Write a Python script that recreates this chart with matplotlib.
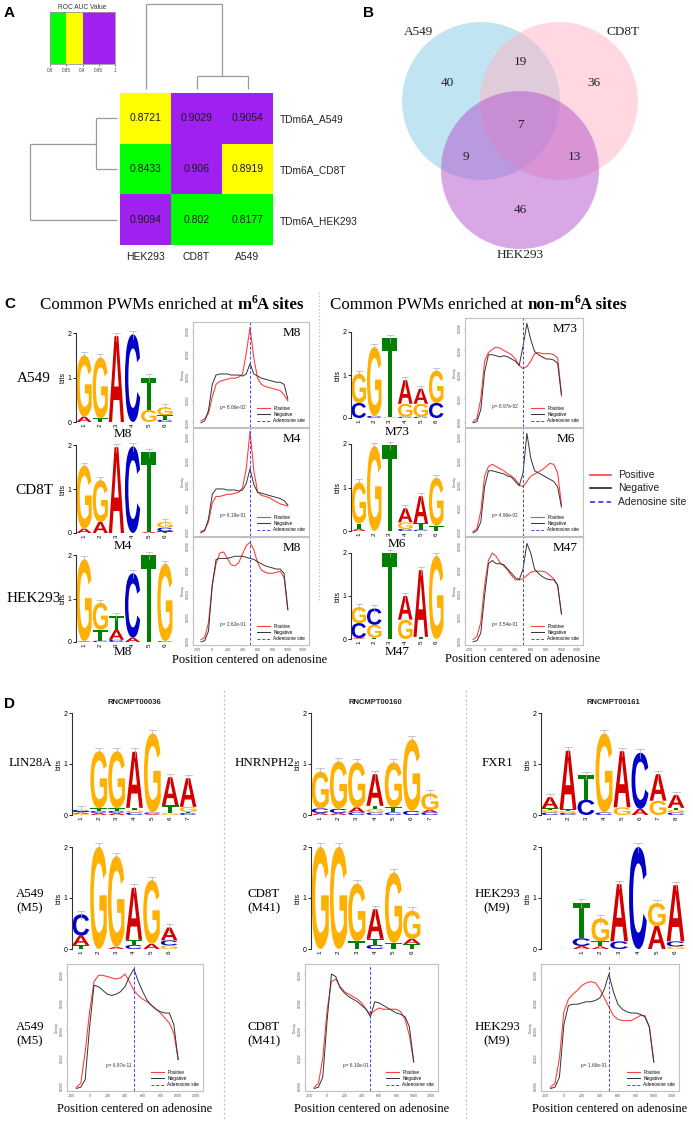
import matplotlib
matplotlib.use('Agg')
import matplotlib.pyplot as plt
from matplotlib.colors import ListedColormap, BoundaryNorm
from matplotlib.patches import Circle, PathPatch
from matplotlib.textpath import TextPath
from matplotlib.font_manager import FontProperties
from matplotlib.lines import Line2D
import matplotlib.transforms as mtrans

plt.rcParams['font.family'] = ['Liberation Sans', 'DejaVu Sans']
SERIF = ['Liberation Serif', 'DejaVu Serif']

# ---------------- Panel A data ----------------
HM_COLS = ['HEK293', 'CD8T', 'A549']
HM_ROWS = ['TDm6A_A549', 'TDm6A_CD8T', 'TDm6A_HEK293']
HM_VALUES = [[0.8721, 0.9029, 0.9054],
             [0.8433, 0.906, 0.8919],
             [0.9094, 0.802, 0.8177]]
AUC_BOUNDS = [0.8, 0.85, 0.9, 1.0]
AUC_COLORS = ['#00ff00', '#ffff00', '#a020f0']
AUC_TICKS = [0.8, 0.85, 0.9, 0.95, 1.0]
AUC_TICKLABELS = ['0.8', '0.85', '0.9', '0.95', '1']
COL_DENDRO_HEIGHTS = [0.153, 1.0]   # (CD8T,A549) then with HEK293
ROW_DENDRO_HEIGHTS = [0.24, 1.0]    # (A549,CD8T) then with HEK293

# ---------------- Panel B data ----------------
VENN_SETS = ['A549', 'CD8T', 'HEK293']
VENN_REGIONS = ['100', '010', '001', '110', '101', '011', '111']
VENN_COUNTS = [40, 36, 46, 19, 9, 13, 7]

# ---------------- Logo data (letter, bits) bottom -> top ----------------
LOGO_C_A549_M8 = [[('A', 0.12), ('G', 1.38)], [('T', 0.08), ('G', 1.37)], [('A', 1.93)],
                  [('C', 1.97)], [('G', 0.27), ('T', 0.73)], [('C', 0.05), ('T', 0.1), ('G', 0.18)]]
LOGO_C_CD8T_M4 = [[('A', 0.1), ('G', 1.43)], [('A', 0.25), ('G', 0.95)], [('A', 1.95)],
                  [('C', 1.97)], [('A', 0.03), ('T', 1.8)], [('T', 0.04), ('C', 0.08), ('G', 0.13)]]
LOGO_C_HEK293_M8 = [[('A', 0.02), ('G', 1.88)], [('C', 0.03), ('T', 0.25), ('G', 0.62)],
                    [('C', 0.05), ('A', 0.23), ('T', 0.32)], [('A', 0.1), ('C', 1.48)],
                    [('T', 2.0)], [('C', 0.02), ('G', 1.78)]]
LOGO_C_A549_M73 = [[('C', 0.35), ('G', 0.68)], [('C', 0.05), ('G', 1.6)], [('G', 0.02), ('T', 1.83)],
                   [('C', 0.03), ('G', 0.3), ('A', 0.55)], [('C', 0.03), ('G', 0.3), ('A', 0.35)],
                   [('C', 0.35), ('G', 0.75)]]
LOGO_C_CD8T_M6 = [[('A', 0.05), ('T', 0.12), ('G', 0.95)], [('G', 1.95)], [('T', 1.98)],
                  [('C', 0.05), ('G', 0.15), ('A', 0.32)], [('C', 0.03), ('T', 0.15), ('A', 0.62)],
                  [('T', 0.12), ('G', 1.1)]]
LOGO_C_HEK293_M47 = [[('A', 0.02), ('C', 0.35), ('G', 0.37)], [('T', 0.03), ('G', 0.3), ('C', 0.38)],
                     [('T', 2.0)], [('G', 0.45), ('A', 0.55)], [('T', 0.05), ('A', 1.55)], [('G', 1.93)]]

LOGO_D_LIN28A = [[('G', 0.02), ('A', 0.03), ('T', 0.02), ('C', 0.03)],
                 [('A', 0.04), ('C', 0.04), ('T', 0.05), ('G', 1.12)],
                 [('A', 0.04), ('C', 0.04), ('T', 0.05), ('G', 1.12)],
                 [('C', 0.05), ('G', 0.04), ('T', 0.05), ('A', 1.1)],
                 [('A', 0.02), ('C', 0.03), ('G', 1.55)],
                 [('G', 0.04), ('T', 0.15), ('A', 0.55)],
                 [('C', 0.04), ('T', 0.02), ('G', 0.1), ('A', 0.56)]]
LOGO_D_HNRNPH2 = [[('A', 0.04), ('C', 0.09), ('G', 0.72)], [('A', 0.04), ('C', 0.08), ('G', 0.93)],
                  [('C', 0.05), ('A', 0.1), ('G', 0.88)], [('C', 0.05), ('G', 0.07), ('T', 0.06), ('A', 0.62)],
                  [('C', 0.05), ('T', 0.1), ('G', 0.88)], [('C', 0.08), ('G', 1.4)],
                  [('C', 0.05), ('A', 0.05), ('G', 0.32)]]
LOGO_D_FXR1 = [[('C', 0.05), ('G', 0.05), ('T', 0.03), ('A', 0.22)],
               [('C', 0.04), ('G', 0.04), ('T', 0.03), ('A', 1.15)],
               [('C', 0.3), ('T', 0.48)], [('C', 0.05), ('G', 1.55)],
               [('G', 0.15), ('A', 1.1)], [('A', 0.12), ('C', 1.1)],
               [('G', 0.28), ('A', 0.52)], [('C', 0.05), ('G', 0.05), ('T', 0.04), ('A', 0.25)]]
LOGO_D_A549_M5 = [[('T', 0.08), ('A', 0.18), ('C', 0.42)], [('G', 2.0)], [('A', 0.04), ('G', 1.78)],
                  [('C', 0.08), ('T', 0.1), ('A', 1.02)], [('A', 0.1), ('G', 1.25)],
                  [('G', 0.07), ('C', 0.1), ('A', 0.25)]]
LOGO_D_CD8T_M41 = [[('G', 2.0)], [('G', 2.0)], [('T', 0.15), ('G', 1.13)],
                   [('C', 0.08), ('T', 0.12), ('A', 0.58)], [('T', 0.12), ('G', 1.38)],
                   [('T', 0.1), ('A', 0.1), ('G', 0.55)]]
LOGO_D_HEK293_M9 = [[('A', 0.06), ('C', 0.15), ('T', 0.7)], [('A', 0.05), ('T', 0.1), ('G', 0.45)],
                    [('C', 0.15), ('A', 1.12)], [('C', 2.0)], [('A', 0.45), ('G', 0.45)],
                    [('G', 0.05), ('C', 0.1), ('A', 1.1)]]

# ---------------- Density data (fraction of panel height) ----------------
DENS_X = [-150, -100, -50, 0, 50, 100, 150, 200, 250, 300, 350, 400,
          450, 500, 550, 600, 650, 700, 750, 800, 850, 900, 950, 1000]
C_A549_M8_POS = [0.05, 0.07, 0.12, 0.28, 0.40, 0.43, 0.44, 0.45, 0.46, 0.46, 0.47, 0.50,
                 0.70, 0.95, 0.65, 0.46, 0.40, 0.38, 0.37, 0.36, 0.35, 0.34, 0.30, 0.24]
C_A549_M8_NEG = [0.03, 0.05, 0.15, 0.40, 0.49, 0.50, 0.50, 0.50, 0.49, 0.49, 0.49, 0.48,
                 0.50, 0.60, 0.50, 0.48, 0.46, 0.45, 0.44, 0.43, 0.42, 0.42, 0.40, 0.26]
C_CD8T_M4_POS = [0.03, 0.05, 0.12, 0.30, 0.36, 0.36, 0.37, 0.38, 0.38, 0.39, 0.40, 0.44,
                 0.62, 0.97, 0.60, 0.40, 0.37, 0.36, 0.35, 0.33, 0.31, 0.29, 0.28, 0.27]
C_CD8T_M4_NEG = [0.02, 0.04, 0.15, 0.38, 0.43, 0.43, 0.43, 0.42, 0.42, 0.42, 0.41, 0.42,
                 0.48, 0.62, 0.47, 0.40, 0.39, 0.38, 0.37, 0.36, 0.35, 0.34, 0.32, 0.28]
C_HEK293_M8_POS = [0.04, 0.06, 0.20, 0.55, 0.75, 0.85, 0.86, 0.80, 0.74, 0.73, 0.76, 0.84,
                   0.92, 0.95, 0.88, 0.76, 0.69, 0.67, 0.66, 0.66, 0.67, 0.68, 0.62, 0.32]
C_HEK293_M8_NEG = [0.02, 0.03, 0.12, 0.55, 0.79, 0.80, 0.80, 0.80, 0.81, 0.82, 0.82, 0.82,
                   0.81, 0.80, 0.79, 0.77, 0.75, 0.73, 0.72, 0.71, 0.70, 0.70, 0.66, 0.32]
C_A549_M73_POS = [0.04, 0.07, 0.25, 0.60, 0.68, 0.71, 0.73, 0.72, 0.70, 0.68, 0.66, 0.62,
                  0.56, 0.53, 0.55, 0.60, 0.67, 0.68, 0.67, 0.67, 0.67, 0.66, 0.63, 0.30]
C_A549_M73_NEG = [0.03, 0.04, 0.15, 0.50, 0.66, 0.66, 0.65, 0.64, 0.65, 0.64, 0.62, 0.60,
                  0.56, 0.74, 0.95, 0.80, 0.69, 0.66, 0.64, 0.62, 0.62, 0.61, 0.58, 0.28]
C_CD8T_M6_POS = [0.03, 0.06, 0.22, 0.55, 0.64, 0.66, 0.64, 0.62, 0.60, 0.57, 0.55, 0.52,
                 0.47, 0.45, 0.50, 0.55, 0.57, 0.59, 0.61, 0.64, 0.67, 0.66, 0.58, 0.28]
C_CD8T_M6_NEG = [0.02, 0.04, 0.12, 0.45, 0.60, 0.60, 0.59, 0.58, 0.57, 0.55, 0.54, 0.50,
                 0.46, 0.58, 0.95, 0.72, 0.60, 0.58, 0.56, 0.54, 0.52, 0.50, 0.45, 0.26]
C_HEK293_M47_POS = [0.04, 0.07, 0.20, 0.55, 0.78, 0.85, 0.82, 0.76, 0.73, 0.69, 0.64, 0.60,
                    0.60, 0.61, 0.64, 0.67, 0.68, 0.68, 0.68, 0.67, 0.64, 0.61, 0.55, 0.28]
C_HEK293_M47_NEG = [0.02, 0.03, 0.10, 0.45, 0.75, 0.78, 0.75, 0.75, 0.74, 0.70, 0.66, 0.62,
                    0.60, 0.70, 0.94, 0.85, 0.70, 0.66, 0.63, 0.61, 0.60, 0.60, 0.55, 0.28]
D_A549_M5_POS = [0.02, 0.05, 0.30, 0.62, 0.86, 0.91, 0.91, 0.90, 0.89, 0.88, 0.89, 0.92,
                 0.86, 0.79, 0.75, 0.72, 0.70, 0.67, 0.64, 0.61, 0.57, 0.53, 0.45, 0.24]
D_A549_M5_NEG = [0.01, 0.02, 0.08, 0.50, 0.83, 0.82, 0.79, 0.76, 0.75, 0.76, 0.78, 0.82,
                 0.90, 0.96, 0.86, 0.78, 0.71, 0.67, 0.64, 0.62, 0.61, 0.61, 0.52, 0.24]
D_CD8T_M41_POS = [0.02, 0.05, 0.25, 0.63, 0.86, 0.88, 0.82, 0.78, 0.76, 0.74, 0.72, 0.69,
                  0.64, 0.60, 0.63, 0.65, 0.64, 0.64, 0.64, 0.64, 0.62, 0.56, 0.43, 0.22]
D_CD8T_M41_NEG = [0.01, 0.02, 0.10, 0.55, 0.92, 0.90, 0.81, 0.77, 0.74, 0.72, 0.70, 0.67,
                  0.64, 0.58, 0.70, 0.69, 0.67, 0.65, 0.63, 0.61, 0.60, 0.58, 0.50, 0.22]
D_HEK293_M9_POS = [0.02, 0.05, 0.25, 0.62, 0.72, 0.76, 0.79, 0.83, 0.85, 0.86, 0.85, 0.80,
                   0.73, 0.66, 0.59, 0.56, 0.55, 0.55, 0.55, 0.57, 0.59, 0.59, 0.50, 0.22]
D_HEK293_M9_NEG = [0.01, 0.02, 0.10, 0.52, 0.67, 0.68, 0.68, 0.69, 0.70, 0.70, 0.71, 0.73,
                   0.80, 0.92, 0.78, 0.68, 0.64, 0.62, 0.61, 0.61, 0.60, 0.58, 0.50, 0.22]
P_VALUES = {'C_A549': 'p= 8.06e-02', 'C_CD8T': 'p= 6.19e-01', 'C_HEK293': 'p= 2.62e-01',
            'C_M73': 'p= 8.97e-02', 'C_M6': 'p= 4.96e-02', 'C_M47': 'p= 3.54e-01',
            'D_A549': 'p= 6.97e-11', 'D_CD8T': 'p= 6.10e-01', 'D_HEK293': 'p= 1.66e-01'}
DENS_XTICKS = [-200, 0, 200, 400, 600, 800, 1000, 1200]

# ---------------- Figure helpers ----------------
W, H = 693, 1123
fig = plt.figure(figsize=(W / 100, H / 100), dpi=100)


def add_ax(x0, y0, x1, y1):
    return fig.add_axes([x0 / W, 1 - y1 / H, (x1 - x0) / W, (y1 - y0) / H])


def ftext(x, y, s, **kw):
    return fig.text(x / W, 1 - y / H, s, **kw)


def vline(x, y0, y1, **kw):
    fig.add_artist(Line2D([x / W, x / W], [1 - y0 / H, 1 - y1 / H], **kw))


LETTER_COL = {'A': '#d40000', 'C': '#0000c8', 'G': '#ffb000', 'T': '#008000'}
FP = FontProperties(family='Liberation Sans', weight='bold')
_GLYPHS = {}


def glyph(ch):
    if ch not in _GLYPHS:
        p = TextPath((0, 0), ch, size=1, prop=FP)
        _GLYPHS[ch] = (p, p.get_extents())
    return _GLYPHS[ch]


def draw_letter(ax, ch, x, y, w, h):
    p, bb = glyph(ch)
    t = (mtrans.Affine2D().translate(-bb.x0, -bb.y0)
         .scale(w / bb.width, h / bb.height).translate(x - w / 2, y))
    ax.add_patch(PathPatch(t.transform_path(p), fc=LETTER_COL[ch], ec='none', lw=0))


def draw_logo(ax, cols, xlim=None):
    n = len(cols)
    for i, stack in enumerate(cols, start=1):
        y = 0.0
        for ch, h in stack:
            draw_letter(ax, ch, i, y, 0.94, h)
            y += h
        ax.plot([i, i], [y - 0.1, y + 0.07], color='#b0b0b0', lw=0.5, clip_on=False)
        ax.plot([i - 0.2, i + 0.2], [y + 0.07] * 2, color='#b0b0b0', lw=0.5, clip_on=False)
    ax.set_xlim(*(xlim if xlim else (0.5, n + 0.5)))
    ax.set_ylim(0, 2)
    for s in ['top', 'right', 'bottom']:
        ax.spines[s].set_visible(False)
    ax.spines['left'].set_linewidth(0.8)
    ax.spines['left'].set_color('#333333')
    ax.set_yticks([0, 1, 2])
    ax.set_yticklabels(['0', '1', '2'], fontsize=5)
    ax.tick_params(axis='y', length=2, width=0.6, pad=1)
    ax.set_xticks(range(1, n + 1))
    ax.set_xticklabels([str(i) for i in range(1, n + 1)], rotation=90, fontsize=4.5)
    ax.tick_params(axis='x', length=0, pad=1)
    ax.set_ylabel('bits', fontsize=5, labelpad=1)
    ax.patch.set_alpha(0)


def density_panel(ax, pos, neg, ptxt, name=None, xticks=True, p_xy=(0.34, 0.19)):
    ax.plot(DENS_X, pos, color='#ff4040', lw=0.8)
    ax.plot(DENS_X, neg, color='#333333', lw=0.7)
    ax.axvline(500, color='#4040ff', ls=(0, (3, 2)), lw=0.7)
    ax.set_xlim(-255, 1280)
    ax.set_ylim(-0.01, 1.0)
    for s in ax.spines.values():
        s.set_color('#c0c0c0')
        s.set_linewidth(0.8)
    ax.set_yticks([0.03, 0.25, 0.47, 0.69, 0.91])
    ax.set_yticklabels(['0.0000', '0.0002', '0.0004', '0.0006', '0.0008'],
                       fontsize=2.3, rotation=90, va='center', color='#555555')
    ax.tick_params(axis='y', length=1, width=0.4, pad=1, color='#888888')
    ax.set_ylabel('Density', fontsize=2.3, labelpad=1, color='#555555')
    ax.set_xticks(DENS_XTICKS)
    if xticks:
        ax.set_xticklabels([str(v) for v in DENS_XTICKS], fontsize=2.6, color='#555555')
        ax.tick_params(axis='x', length=1, width=0.4, pad=1, color='#888888')
    else:
        ax.set_xticklabels([])
        ax.tick_params(axis='x', length=0)
    ax.text(p_xy[0], p_xy[1], ptxt, transform=ax.transAxes, fontsize=3.4,
            ha='center', va='center', color='#333333')
    handles = [Line2D([], [], color='#ff4040', lw=0.8),
               Line2D([], [], color='#333333', lw=0.7),
               Line2D([], [], color='#4040ff', lw=0.7, ls=(0, (3, 2)))]
    ax.legend(handles, ['Positive', 'Negative', 'Adenosine site'], loc='lower right',
              fontsize=3.4, frameon=False, handlelength=2.6, borderaxespad=0.4,
              labelspacing=0.25, handletextpad=0.8)
    if name:
        ax.text(0.85, 0.9, name, transform=ax.transAxes, fontsize=9.5, family=SERIF,
                ha='center', va='center')


# ================= Panel A =================
ftext(4, 13, 'A', fontsize=11, fontweight='bold', va='center')

cmap = ListedColormap(AUC_COLORS)
norm = BoundaryNorm(AUC_BOUNDS, len(AUC_COLORS))

axl = add_ax(50, 12, 115, 64)
axl.pcolormesh(AUC_BOUNDS, [0, 1], [[(AUC_BOUNDS[i] + AUC_BOUNDS[i + 1]) / 2
                                    for i in range(len(AUC_COLORS))]], cmap=cmap, norm=norm)
axl.set_xlim(AUC_BOUNDS[0], AUC_BOUNDS[-1])
axl.set_yticks([])
axl.set_xticks(AUC_TICKS)
axl.set_xticklabels(AUC_TICKLABELS, fontsize=3.3, color='#444444')
axl.tick_params(axis='x', length=1.5, width=0.4, pad=1.5)
for s in axl.spines.values():
    s.set_color('#999999')
    s.set_linewidth(0.6)
axl.set_title('ROC AUC Value', fontsize=4.8, pad=2, color='#333333')

axh = add_ax(120, 93, 273, 245)
axh.imshow(HM_VALUES, cmap=cmap, norm=norm, aspect='auto')
for i, row in enumerate(HM_VALUES):
    for j, v in enumerate(row):
        axh.text(j, i, f"{v:g}", ha='center', va='center', fontsize=7.5, color='#1a1a1a')
axh.set_xticks(range(len(HM_COLS)))
axh.set_xticklabels(HM_COLS, fontsize=7.5, color='#222222')
axh.yaxis.tick_right()
axh.set_yticks(range(len(HM_ROWS)))
axh.set_yticklabels(HM_ROWS, fontsize=7.3, color='#222222')
axh.tick_params(length=0, pad=5)
for s in axh.spines.values():
    s.set_visible(False)

dcol = '#9a9a9a'
axc = add_ax(120, 4, 273, 89)
h1, h2 = COL_DENDRO_HEIGHTS
for xs, ys in [([1.5, 1.5], [0, h1]), ([2.5, 2.5], [0, h1]), ([1.5, 2.5], [h1, h1]),
               ([2.0, 2.0], [h1, h2]), ([0.5, 0.5], [0, h2]), ([0.5, 2.0], [h2, h2])]:
    axc.plot(xs, ys, color=dcol, lw=0.9, solid_capstyle='butt', clip_on=False)
axc.set_xlim(0, 3)
axc.set_ylim(0, 1)
axc.axis('off')

axr = add_ax(30, 93, 117, 245)
r1, r2 = ROW_DENDRO_HEIGHTS
for xs, ys in [([0, r1], [0.5, 0.5]), ([0, r1], [1.5, 1.5]), ([r1, r1], [0.5, 1.5]),
               ([r1, r2], [1.0, 1.0]), ([0, r2], [2.5, 2.5]), ([r2, r2], [1.0, 2.5])]:
    axr.plot(xs, ys, color=dcol, lw=0.9, solid_capstyle='butt', clip_on=False)
axr.set_xlim(1, 0)
axr.set_ylim(3, 0)
axr.axis('off')

# ================= Panel B =================
ftext(363, 13, 'B', fontsize=11, fontweight='bold', va='center')
axv = add_ax(350, 0, 693, 290)
axv.set_xlim(350, 693)
axv.set_ylim(290, 0)
axv.set_aspect('equal')
axv.axis('off')
venn_centers = [(481, 101), (559, 101), (520, 170)]
venn_colors = ['#83cbe5', '#ffb3c5', '#b551cd']
for (cx, cy), col in zip(venn_centers, venn_colors):
    axv.add_patch(Circle((cx, cy), 79, fc=col, ec='none', alpha=0.5))
venn_label_pos = [(418, 32), (623, 32), (520, 255)]
for name, (lx, ly) in zip(VENN_SETS, venn_label_pos):
    axv.text(lx, ly, name, fontsize=9.5, family=SERIF, ha='center', va='center', color='#222222')
region_pos = {'100': (447, 83), '010': (594, 83), '001': (520, 210), '110': (520, 62),
              '101': (466, 157), '011': (574, 157), '111': (520, 125)}
for key, cnt in zip(VENN_REGIONS, VENN_COUNTS):
    x, y = region_pos[key]
    axv.text(x, y, str(cnt), fontsize=9.5, family=SERIF, ha='center', va='center', color='#222222')

# ================= Panel C =================
ftext(4, 304, 'C', fontsize=11, fontweight='bold', va='center')
renderer = fig.canvas.get_renderer()


def rich(x, y, parts, fs):
    cx = x
    for s, bold, sup in parts:
        size = fs * 0.68 if sup else fs
        yy = y - fs * 0.5 if sup else y
        t = fig.text(cx / W, 1 - yy / H, s, fontsize=size, family=SERIF,
                     fontweight='bold' if bold else 'normal', va='baseline', ha='left')
        cx += t.get_window_extent(renderer=renderer).width


rich(40, 309, [('Common PWMs enriched at\u00a0', False, False), ('m', True, False),
               ('6', True, True), ('A sites', True, False)], 12.2)
rich(330, 309, [('Common PWMs enriched at\u00a0', False, False), ('non-m', True, False),
                ('6', True, True), ('A sites', True, False)], 12.2)
vline(319, 292, 600, color='#b5b5b5', lw=0.8, ls=(0, (1, 2)))

left_logos = [LOGO_C_A549_M8, LOGO_C_CD8T_M4, LOGO_C_HEK293_M8]
right_logos = [LOGO_C_A549_M73, LOGO_C_CD8T_M6, LOGO_C_HEK293_M47]
left_names = ['M8', 'M4', 'M8']
right_names = ['M73', 'M6', 'M47']
row_labels = ['A549', 'CD8T', 'HEK293']
left_logo_y = [(333, 422), (445, 533), (555, 642)]
right_logo_y = [(332, 418), (444, 531), (553, 639)]
left_cap_y = [434, 546, 652]
right_cap_y = [432, 544, 652]
dens_y = [(322, 427), (428, 536), (537, 645)]
right_dens_y = [(318, 427), (428, 536), (537, 645)]
row_label_y = [379, 490, 598]
left_dens = [(C_A549_M8_POS, C_A549_M8_NEG, P_VALUES['C_A549']),
             (C_CD8T_M4_POS, C_CD8T_M4_NEG, P_VALUES['C_CD8T']),
             (C_HEK293_M8_POS, C_HEK293_M8_NEG, P_VALUES['C_HEK293'])]
right_dens = [(C_A549_M73_POS, C_A549_M73_NEG, P_VALUES['C_M73']),
              (C_CD8T_M6_POS, C_CD8T_M6_NEG, P_VALUES['C_M6']),
              (C_HEK293_M47_POS, C_HEK293_M47_NEG, P_VALUES['C_M47'])]

for k in range(3):
    ftext(34, row_label_y[k], row_labels[k], fontsize=11, family=SERIF, ha='center', va='center')
    ax = add_ax(76, left_logo_y[k][0], 173, left_logo_y[k][1])
    draw_logo(ax, left_logos[k])
    ftext(123, left_cap_y[k], left_names[k], fontsize=9.5, family=SERIF, ha='center', va='center')
    ax = add_ax(351, right_logo_y[k][0], 444, right_logo_y[k][1])
    draw_logo(ax, right_logos[k])
    ftext(397, right_cap_y[k], right_names[k], fontsize=9.5, family=SERIF, ha='center', va='center')
    ax = add_ax(193, dens_y[k][0], 309, dens_y[k][1])
    pos, neg, pt = left_dens[k]
    density_panel(ax, pos, neg, pt, name=left_names[k], xticks=(k == 2))
    ax = add_ax(465, right_dens_y[k][0], 583, right_dens_y[k][1])
    pos, neg, pt = right_dens[k]
    density_panel(ax, pos, neg, pt, name=right_names[k], xticks=(k == 2))

ftext(250, 660, 'Position centered on adenosine', fontsize=9, family=SERIF, ha='center', va='center')
ftext(523, 659, 'Position centered on adenosine', fontsize=9, family=SERIF, ha='center', va='center')

# outside legend
for yy, col, ls, lab in [(475, '#ff4040', '-', 'Positive'), (488, '#222222', '-', 'Negative'),
                         (502, '#3030ff', (0, (3, 2)), 'Adenosine site')]:
    fig.add_artist(Line2D([590 / W, 611 / W], [1 - yy / H] * 2, color=col, lw=1.2, ls=ls))
    ftext(618, yy, lab, fontsize=7.5, va='center', color='#222222')

# ================= Panel D =================
ftext(4, 704, 'D', fontsize=11, fontweight='bold', va='center')
vline(224, 690, 1120, color='#c0c0c0', lw=0.8, ls=(0, (2, 2)))
vline(466, 690, 1120, color='#c0c0c0', lw=0.8, ls=(0, (2, 2)))

D_TITLES = ['RNCMPT00036', 'RNCMPT00160', 'RNCMPT00161']
D_RBPS = ['LIN28A', 'HNRNPH2', 'FXR1']
D_MOTIF_LABELS = ['A549\n(M5)', 'CD8T\n(M41)', 'HEK293\n(M9)']
D_TOP_LOGOS = [LOGO_D_LIN28A, LOGO_D_HNRNPH2, LOGO_D_FXR1]
D_BOT_LOGOS = [LOGO_D_A549_M5, LOGO_D_CD8T_M41, LOGO_D_HEK293_M9]
D_DENS = [(D_A549_M5_POS, D_A549_M5_NEG, P_VALUES['D_A549']),
          (D_CD8T_M41_POS, D_CD8T_M41_NEG, P_VALUES['D_CD8T']),
          (D_HEK293_M9_POS, D_HEK293_M9_NEG, P_VALUES['D_HEK293'])]
d_label_x = [30, 264, 497]
d_top_ax = [(72, 197), (311, 439), (541, 685)]
d_bot_ax = [(72, 178), (311, 421), (541, 685)]
d_bot_xlim = [None, None, (-1.15, 6.5)]
d_dens_ax = [(67, 203), (305, 438), (541, 679)]

for k in range(3):
    x0, x1 = d_top_ax[k]
    ftext((x0 + x1) / 2, 703, D_TITLES[k], fontsize=5.5, fontweight='bold', ha='center',
          va='center', color='#222222')
    ftext(d_label_x[k], 763, D_RBPS[k], fontsize=9.3, family=SERIF, ha='center', va='center')
    ax = add_ax(x0, 713, x1, 815)
    draw_logo(ax, D_TOP_LOGOS[k])
    ftext(d_label_x[k], 901, D_MOTIF_LABELS[k], fontsize=9.3, family=SERIF, ha='center',
          va='center', linespacing=1.25)
    bx0, bx1 = d_bot_ax[k]
    ax = add_ax(bx0, 847, bx1, 949)
    draw_logo(ax, D_BOT_LOGOS[k], xlim=d_bot_xlim[k])
    ftext(d_label_x[k], 1034, D_MOTIF_LABELS[k], fontsize=9.3, family=SERIF, ha='center',
          va='center', linespacing=1.25)
    dx0, dx1 = d_dens_ax[k]
    ax = add_ax(dx0, 964, dx1, 1091)
    pos, neg, pt = D_DENS[k]
    density_panel(ax, pos, neg, pt, name=None, xticks=True, p_xy=(0.38, 0.2))
    ftext((dx0 + dx1) / 2, 1109, 'Position centered on adenosine', fontsize=9, family=SERIF,
          ha='center', va='center')

fig.savefig('out.png', dpi=100)
